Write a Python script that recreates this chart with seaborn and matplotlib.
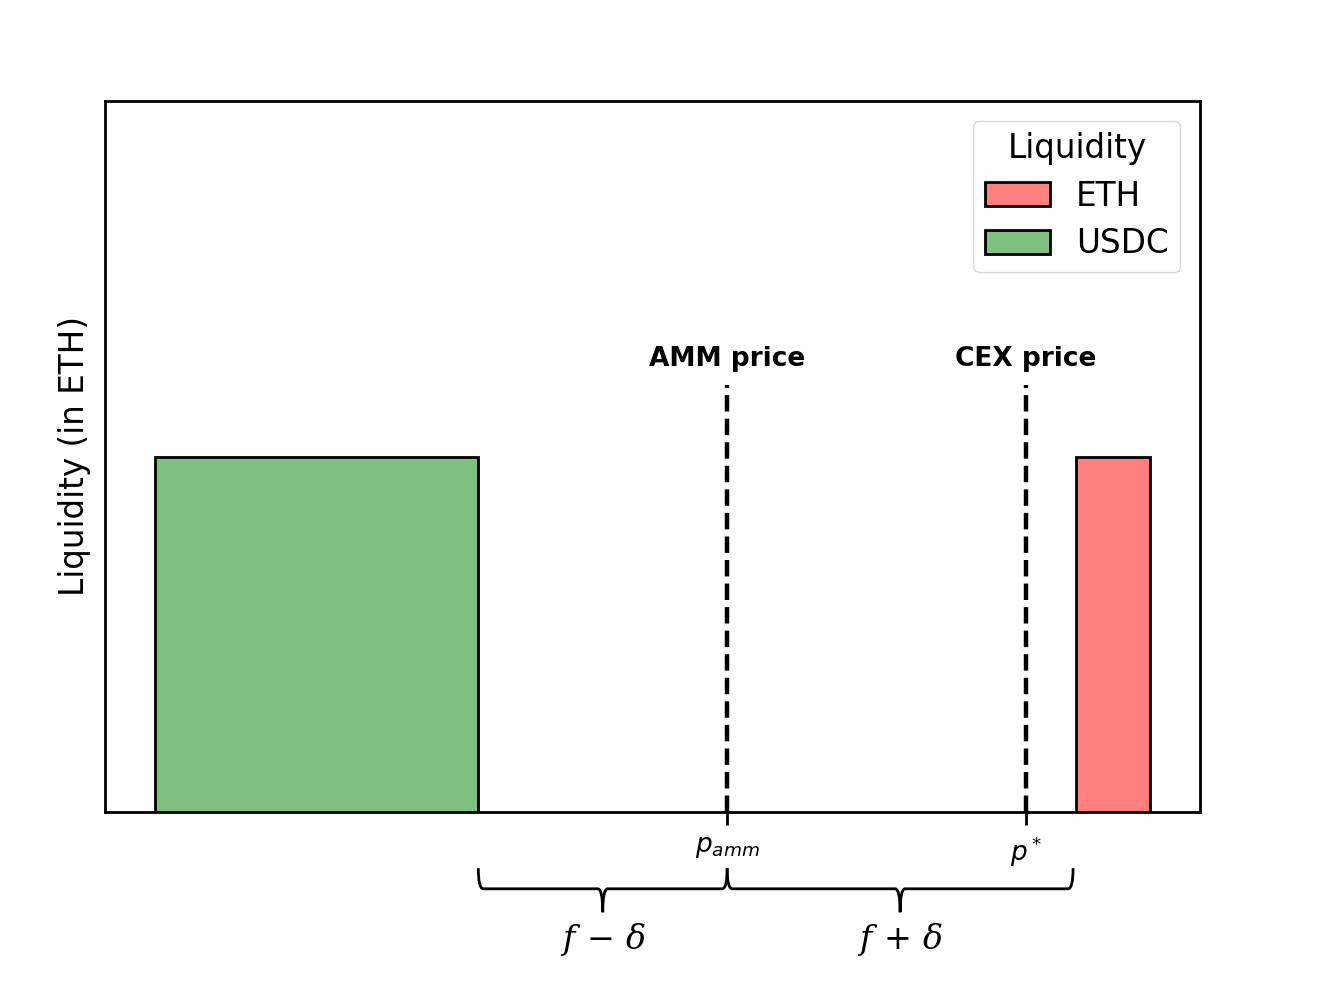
import matplotlib
matplotlib.use("Agg")
import matplotlib.pyplot as plt
import seaborn as sns
from matplotlib.path import Path
from matplotlib.patches import PathPatch

# data
tokens = ["ETH", "USDC"]
bar_left = [19.5, 1.0]
bar_right = [21.0, 7.5]
bar_height = [1.0, 1.0]
bar_colors = ["red", "green"]

price_names = ["AMM price", "CEX price"]
price_values = [12.5, 18.5]
price_ticklabels = [r"$p_{amm}$", r"$p^*$"]
brace_labels = [r"$f\,-\,\delta$", r"$f\,+\,\delta$"]

sns.set_style("ticks")
plt.rcParams["font.family"] = ["DejaVu Sans"]
plt.rcParams["mathtext.fontset"] = "dejavusans"
plt.rcParams["text.color"] = "black"
plt.rcParams["axes.labelcolor"] = "black"
plt.rcParams["xtick.color"] = "black"

fig = plt.figure(figsize=(13.18, 9.82), dpi=100)
ax = fig.add_axes([105 / 1318, 170 / 982, 1095 / 1318, 711 / 982])

# bars (one histogram bin per token)
for tok, l, r, h, c in zip(tokens, bar_left, bar_right, bar_height, bar_colors):
    sns.histplot(x=[(l + r) / 2], weights=[h], bins=[l, r], color=c, alpha=0.5,
                 edgecolor="black", linewidth=2.0, ax=ax, label=tok)

# price lines
for name, p in zip(price_names, price_values):
    ax.plot([p, p], [0, 1.2], color="black", linestyle="--", linewidth=3.2)
    ax.text(p, 1.275, name, ha="center", va="center", fontsize=19, fontweight="bold")

ax.set_xlim(0, 22)
ax.set_ylim(0, 2)
ax.set_yticks([])
ax.set_xticks(price_values)
ax.set_xticklabels(price_ticklabels, fontsize=19)
ax.tick_params(axis="x", length=9, width=2, pad=7, colors="black")
ax.set_xlabel("")
ax.set_ylabel("Liquidity (in ETH)", fontsize=23.5, labelpad=10)
for s in ax.spines.values():
    s.set_linewidth(2)
    s.set_color("black")

leg = ax.legend(title="Liquidity", loc="upper right", fontsize=23.5, title_fontsize=23.5,
                handlelength=2.0, handleheight=0.75, borderpad=0.35, borderaxespad=0.6,
                labelspacing=0.45)
leg._legend_box.align = "center"


# curly braces under the axis
def brace(x0, x1, label):
    xm = (x0 + x1) / 2
    yt, yl, yp = -0.079, -0.108, -0.141
    rx = 0.1
    verts = [(x0, yt), (x0, yl), (x0 + rx, yl), (xm - rx, yl), (xm, yl), (xm, yp),
             (xm, yl), (xm + rx, yl), (x1 - rx, yl), (x1, yl), (x1, yt)]
    codes = [Path.MOVETO, Path.CURVE3, Path.CURVE3, Path.LINETO, Path.CURVE3, Path.CURVE3,
             Path.CURVE3, Path.CURVE3, Path.LINETO, Path.CURVE3, Path.CURVE3]
    patch = PathPatch(Path(verts, codes), facecolor="none", edgecolor="black", lw=2,
                      transform=ax.get_xaxis_transform(), clip_on=False)
    ax.add_patch(patch)
    ax.text(xm, -0.18, label, ha="center", va="center", fontsize=24,
            math_fontfamily="dejavuserif", transform=ax.get_xaxis_transform())


brace(bar_right[1], price_values[0], brace_labels[0])
brace(price_values[0], bar_left[0] - 0.05, brace_labels[1])

fig.savefig("out.png", dpi=100)
